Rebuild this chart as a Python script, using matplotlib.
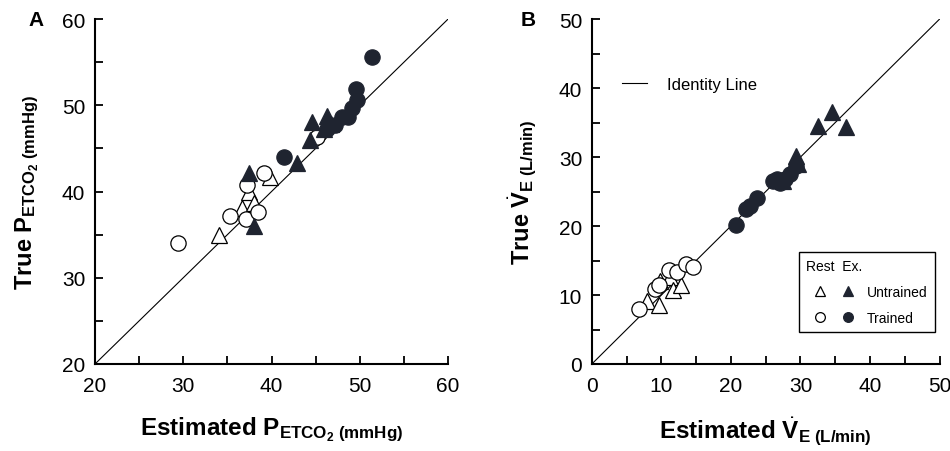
import matplotlib
matplotlib.use("Agg")
import matplotlib.pyplot as plt
from matplotlib.lines import Line2D
from matplotlib.legend_handler import HandlerTuple

plt.rcParams["font.family"] = ["Liberation Sans", "DejaVu Sans"]
plt.rcParams["mathtext.fontset"] = "custom"
plt.rcParams["mathtext.rm"] = "Liberation Sans"
plt.rcParams["mathtext.it"] = "Liberation Sans:italic"
plt.rcParams["mathtext.bf"] = "Liberation Sans:bold"

# Panel A: PETCO2 (estimated, true)
a_rest_untr_x = [34.0, 36.6, 37.5, 38.0, 39.8]
a_rest_untr_y = [35.0, 38.1, 39.9, 38.7, 41.7]
a_rest_tr_x = [29.4, 35.3, 37.1, 38.5, 37.2, 39.1, 45.1]
a_rest_tr_y = [34.0, 37.2, 36.8, 37.6, 40.8, 42.2, 46.3]
a_ex_untr_x = [37.4, 38.0, 42.9, 44.4, 44.6, 45.9, 46.3, 46.7]
a_ex_untr_y = [42.1, 36.0, 43.3, 46.0, 48.1, 47.3, 48.8, 47.8]
a_ex_tr_x = [41.4, 46.3, 47.2, 48.0, 48.7, 49.1, 49.7, 49.6, 51.4]
a_ex_tr_y = [44.0, 47.2, 47.7, 48.6, 48.7, 49.7, 50.6, 51.9, 55.6]

# Panel B: VE (estimated, true)
b_rest_untr_x = [7.9, 9.7, 9.8, 11.3, 11.7, 12.8]
b_rest_untr_y = [9.2, 8.6, 12.1, 12.6, 10.7, 11.4]
b_rest_tr_x = [6.8, 9.1, 9.6, 11.1, 12.2, 13.6, 14.6]
b_rest_tr_y = [8.0, 10.9, 11.5, 13.6, 13.3, 14.5, 14.0]
b_ex_untr_x = [27.5, 29.4, 29.6, 32.5, 34.6, 36.6]
b_ex_untr_y = [26.5, 30.1, 29.0, 34.5, 36.6, 34.4]
b_ex_tr_x = [20.8, 22.2, 22.7, 23.7, 26.1, 26.6, 27.0, 27.8, 28.5, 29.4]
b_ex_tr_y = [20.1, 22.5, 22.9, 24.1, 26.5, 26.8, 26.3, 26.8, 27.5, 28.7]

DARK = "#1f2430"


def draw_points(ax, rux, ruy, rtx, rty, eux, euy, etx, ety):
    kw = dict(linestyle="none", markeredgewidth=0.9, zorder=3)
    ax.plot(rux, ruy, marker="^", markersize=12, markerfacecolor="white", markeredgecolor="black", **kw)
    ax.plot(rtx, rty, marker="o", markersize=11, markerfacecolor="white", markeredgecolor="black", **kw)
    ax.plot(eux, euy, marker="^", markersize=12, markerfacecolor=DARK, markeredgecolor=DARK, **kw)
    ax.plot(etx, ety, marker="o", markersize=11, markerfacecolor=DARK, markeredgecolor=DARK, **kw)


def style_axis(ax, lo, hi):
    ax.set_xlim(lo, hi)
    ax.set_ylim(lo, hi)
    ax.plot([lo, hi], [lo, hi], color="black", lw=0.8, zorder=2)
    ax.spines["top"].set_visible(False)
    ax.spines["right"].set_visible(False)
    for s in ("left", "bottom"):
        ax.spines[s].set_linewidth(1.5)
    ax.set_xticks(range(lo, hi + 1, 10))
    ax.set_yticks(range(lo, hi + 1, 10))
    ax.set_xticks(range(lo + 5, hi, 10), minor=True)
    ax.set_yticks(range(lo + 5, hi, 10), minor=True)
    ax.tick_params(which="both", direction="in", length=6, width=1.3, labelsize=15)
    ax.tick_params(axis="x", which="both", pad=9)
    ax.tick_params(axis="y", which="both", pad=7)


fig = plt.figure(figsize=(9.5, 4.52), dpi=100)
axA = fig.add_axes([0.100, 0.1925, 0.3716, 0.763])
axB = fig.add_axes([0.623, 0.1925, 0.366, 0.763])

style_axis(axA, 20, 60)
draw_points(axA, a_rest_untr_x, a_rest_untr_y, a_rest_tr_x, a_rest_tr_y,
            a_ex_untr_x, a_ex_untr_y, a_ex_tr_x, a_ex_tr_y)
axA.set_xlabel(r"Estimated P$_{\mathbf{ETCO_2}\ \mathbf{(mmHg)}}$",
               fontsize=17.5, fontweight="bold", labelpad=14)
axA.set_ylabel(r"True P$_{\mathbf{ETCO_2}\ \mathbf{(mmHg)}}$",
               fontsize=17, fontweight="bold", labelpad=15)

style_axis(axB, 0, 50)
draw_points(axB, b_rest_untr_x, b_rest_untr_y, b_rest_tr_x, b_rest_tr_y,
            b_ex_untr_x, b_ex_untr_y, b_ex_tr_x, b_ex_tr_y)
axB.set_xlabel(r"Estimated $\dot{\mathbf{V}}_{\mathbf{E}\ \mathbf{(L/min)}}$",
               fontsize=17.5, fontweight="bold", labelpad=14)
axB.set_ylabel(r"True $\dot{\mathbf{V}}_{\mathbf{E}\ \mathbf{(L/min)}}$",
               fontsize=17, fontweight="bold", labelpad=15)

fig.text(0.030, 0.955, "A", fontsize=15, fontweight="bold", va="center")
fig.text(0.548, 0.955, "B", fontsize=15, fontweight="bold", va="center")

# group legend
lm = dict(linestyle="none", markersize=7, markeredgewidth=0.9)
h_ru = Line2D([], [], marker="^", markerfacecolor="white", markeredgecolor="black", **lm)
h_eu = Line2D([], [], marker="^", markerfacecolor=DARK, markeredgecolor=DARK, **lm)
h_rt = Line2D([], [], marker="o", markerfacecolor="white", markeredgecolor="black", **lm)
h_et = Line2D([], [], marker="o", markerfacecolor=DARK, markeredgecolor=DARK, **lm)
leg = axB.legend(handles=[(h_ru, h_eu), (h_rt, h_et)], labels=["Untrained", "Trained"],
                 handler_map={tuple: HandlerTuple(ndivide=None, pad=0.1)},
                 title="Rest  Ex.", alignment="left", fontsize=10, title_fontsize=10,
                 loc="lower right", bbox_to_anchor=(0.986, 0.093),
                 fancybox=False, edgecolor="black", framealpha=1,
                 handlelength=4.0, handletextpad=0.4, labelspacing=0.85,
                 borderpad=0.5, borderaxespad=0)
leg.get_frame().set_linewidth(1.0)
axB.add_artist(leg)

axB.legend(handles=[Line2D([], [], color="black", lw=0.8)], labels=["Identity Line"],
           frameon=False, fontsize=12, loc="center left",
           bbox_to_anchor=(0.045, 0.81), handlelength=1.5, handletextpad=1.2)

fig.savefig("out.png", dpi=100)
